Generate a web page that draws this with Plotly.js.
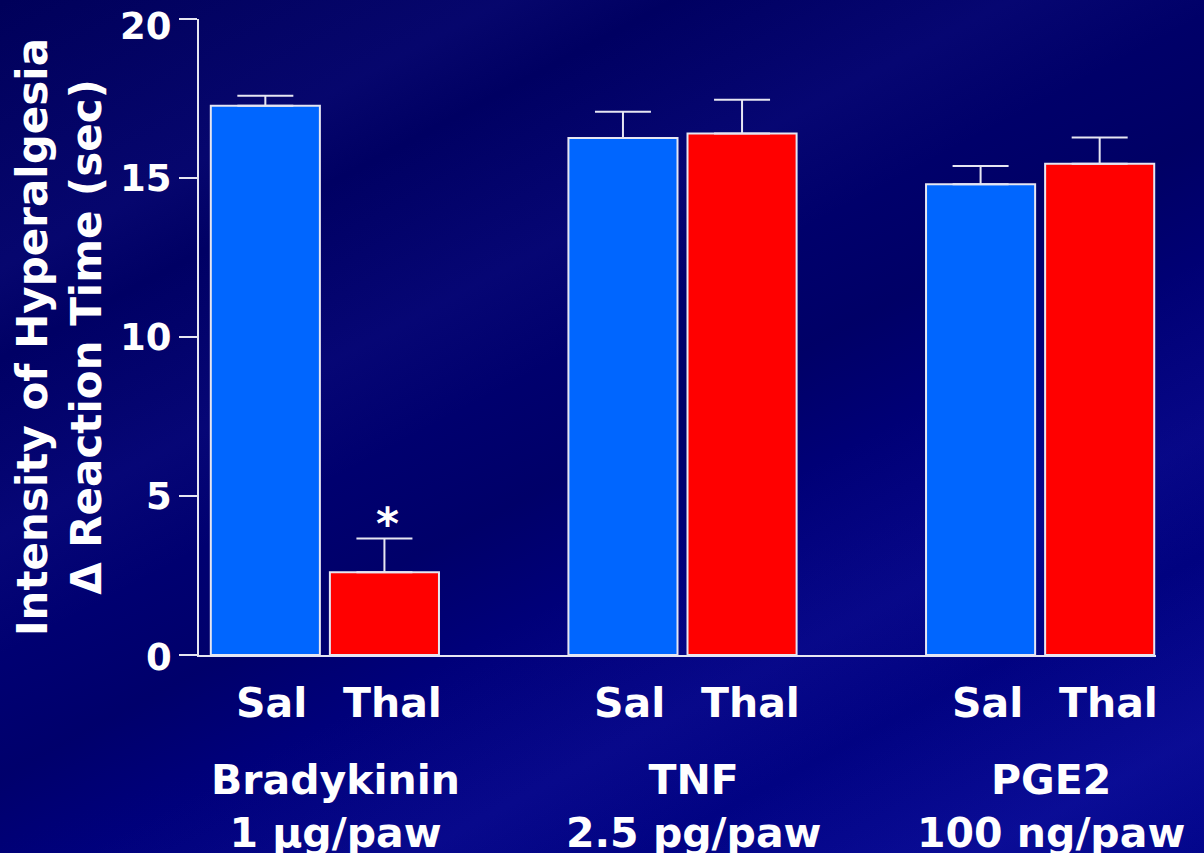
<!DOCTYPE html>
<html>
<head>
<meta charset="utf-8">
<script src="https://cdn.plot.ly/plotly-3.0.1.min.js"></script>
<style>
html, body { margin: 0; padding: 0; width: 1204px; height: 853px; overflow: hidden; }
body {
  background:
    linear-gradient(152deg, rgba(255,255,255,0) 0%, rgba(60,60,220,0.10) 18%, rgba(255,255,255,0) 24%, rgba(60,60,220,0.10) 36%, rgba(255,255,255,0) 44%, rgba(0,0,60,0.18) 52%, rgba(255,255,255,0) 60%, rgba(60,60,220,0.12) 72%, rgba(255,255,255,0) 80%, rgba(60,60,230,0.14) 92%, rgba(255,255,255,0) 100%),
    linear-gradient(160deg, #00005a 0%, #000068 35%, #00007a 65%, #03068c 100%);
}
#chart { width: 1204px; height: 853px; }
</style>
</head>
<body>
<div id="chart"></div>
<script>
// ---- data ----
const groups = ["Bradykinin", "TNF", "PGE2"];
const doses = ["1 \u03bcg/paw", "2.5 pg/paw", "100 ng/paw"];
const treatments = ["Sal", "Thal"];
const salValues = [17.27, 16.26, 14.80];
const salErrors = [0.32, 0.82, 0.58];
const thalValues = [2.60, 16.40, 15.45];
const thalErrors = [1.06, 1.06, 0.82];
const significance = ["*", "", ""];   // marks above Thal bars
const yTicks = [0, 5, 10, 15, 20];

const FONT = "DejaVu Sans, Verdana, sans-serif";
const WHITE = "#ffffff";
const LINE = "#e6e6f2";
const zeros = salValues.map(() => 0);
const yMax = yTicks[yTicks.length - 1];

function barTrace(name, vals, errs, color) {
  return {
    type: "bar", name: name, x: groups, y: vals,
    marker: { color: color, line: { color: LINE, width: 2 } },
    error_y: { type: "data", symmetric: false, array: errs, arrayminus: zeros,
               color: LINE, thickness: 2, width: 28 },
    hoverinfo: "skip"
  };
}

const traces = [
  barTrace(treatments[0], salValues, salErrors, "#0066ff"),
  barTrace(treatments[1], thalValues, thalErrors, "#ff0000")
];

const labelFont = { family: FONT, size: 41, color: WHITE, weight: "bold" };
const annotations = [];
groups.forEach((g, i) => {
  annotations.push({ x: g, xref: "x", y: 0, yref: "paper", yanchor: "middle",
    xshift: -53, yshift: -48, showarrow: false, text: treatments[0], font: labelFont });
  annotations.push({ x: g, xref: "x", y: 0, yref: "paper", yanchor: "middle",
    xshift: 68, yshift: -48, showarrow: false, text: treatments[1], font: labelFont });
  annotations.push({ x: g, xref: "x", y: 0, yref: "paper", yanchor: "top",
    xshift: 11, yshift: -99, showarrow: false, text: g + "<br>" + doses[i], font: labelFont });
  if (significance[i]) {
    annotations.push({ x: g, xref: "x", y: thalValues[i] + thalErrors[i], yref: "y",
      yanchor: "bottom", xshift: 63, yshift: -12, showarrow: false, text: significance[i],
      font: { family: FONT, size: 44, color: WHITE, weight: "bold" } });
  }
});
// y tick labels drawn on the y scale (top one nudged down to stay on the page, as in the original)
yTicks.forEach(v => {
  annotations.push({ x: 0, xref: "paper", y: v, yref: "y", xanchor: "right", yanchor: "middle",
    xshift: -25, yshift: v === yMax ? -7 : (v === 0 ? -2 : 0), showarrow: false, text: String(v),
    font: { family: FONT, size: 37, color: WHITE, weight: "bold" } });
});

const layout = {
  width: 1204, height: 853,
  margin: { l: 199, r: 48, t: 19, b: 198 },
  paper_bgcolor: "rgba(0,0,0,0)",
  plot_bgcolor: "rgba(0,0,0,0)",
  showlegend: false,
  barmode: "group",
  bargap: 0.334,
  bargroupgap: 0.084,
  xaxis: {
    type: "category", range: [-0.352, 2.324],
    showticklabels: false, ticks: "", showgrid: false, zeroline: false,
    showline: true, linecolor: LINE, linewidth: 2, fixedrange: true
  },
  yaxis: {
    range: [0, yMax], tickvals: yTicks, showticklabels: false,
    ticks: "outside", ticklen: 18, tickwidth: 2, tickcolor: LINE,
    showgrid: false, zeroline: false,
    showline: true, linecolor: LINE, linewidth: 2,
    title: { text: "Intensity of Hyperalgesia<br>\u0394 Reaction Time (sec)", standoff: 64,
             font: { family: FONT, size: 42, color: WHITE, weight: "bold" } },
    automargin: false, fixedrange: true
  },
  annotations: annotations
};

Plotly.newPlot("chart", traces, layout, { displayModeBar: false, staticPlot: true });
</script>
</body>
</html>
